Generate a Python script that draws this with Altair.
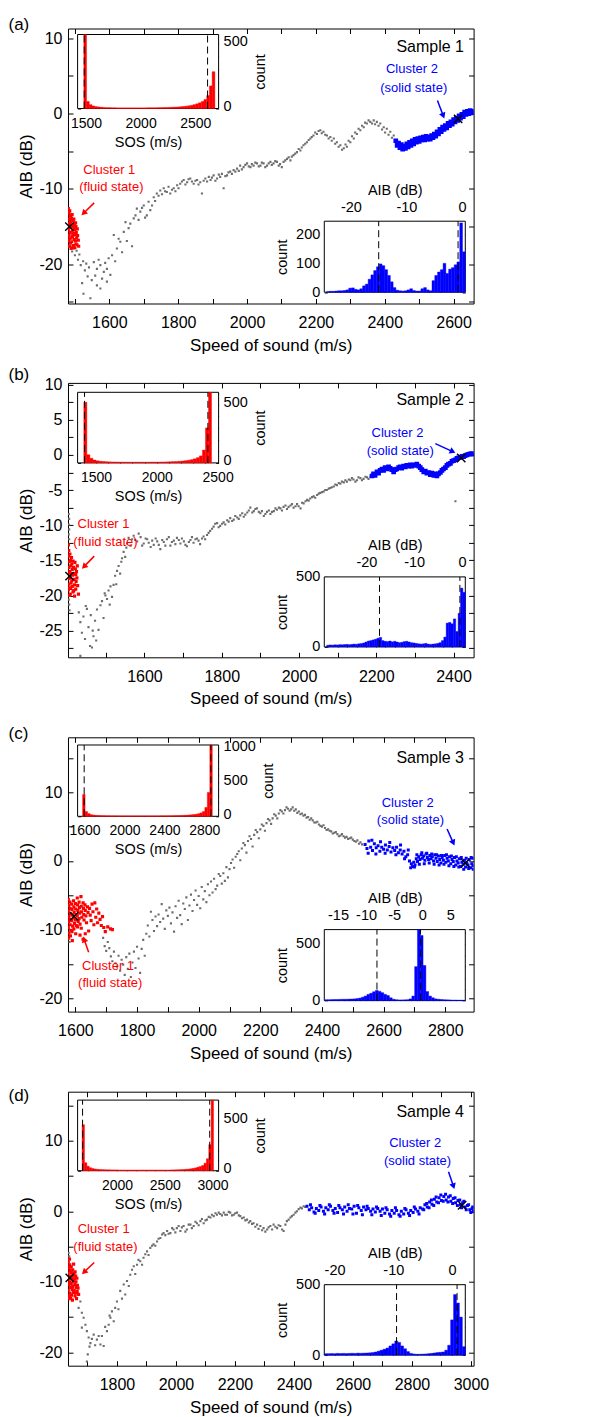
import math
import altair as alt
import pandas as pd

FONT = "Liberation Sans"
PLOT_W = 405.6
SPACING = 79.4
SOS_BIN = 25      # m/s per histogram bin
AIB_BIN = 0.5     # dB per histogram bin

# ---------------- Sample 1 ----------------
A_GRAY = [(1488,-17.6),(1492,-18.3),(1497,-17.9),(1500,-18.8),(1505,-18.2),(1509,-19.4),(1513,-18.7),(1517,-20.1),(1521,-22.5),(1524,-19.6),(1525,-23.9),(1529,-20.8),(1533,-19.9),(1537,-21.6),(1541,-20.4),(1545,-24.5),(1549,-22.1),(1555,-19.7),(1559,-21.5),(1564,-20.6),(1564,-22.8),(1569,-19.4),(1574,-20.1),(1574,-23.2),(1579,-21.9),(1584,-21.0),(1588,-19.8),(1593,-20.6),(1593,-22.3),(1598,-19.2),(1603,-21.4),(1608,-18.8),(1613,-16.1),(1617,-19.6),(1622,-17.9),(1627,-16.6),(1632,-17.0),(1637,-18.4),(1642,-15.7),(1647,-14.4),(1651,-16.9),(1656,-15.2),(1661,-14.6),(1666,-17.6),(1671,-13.9),(1676,-13.5),(1680,-12.6),(1685,-14.1),(1690,-13.0),(1695,-12.5),(1700,-12.2),(1704,-13.8),(1709,-13.5),(1714,-11.7),(1719,-12.8),(1724,-12.2),(1729,-11.1),(1733,-11.6),(1738,-10.6),(1743,-10.9),(1748,-10.2),(1753,-10.7),(1758,-9.9),(1762,-10.3),(1767,-10.4),(1772,-9.7),(1777,-10.6),(1782,-10.1),(1787,-9.9),(1792,-10.3),(1797,-9.5),(1801,-9.9),(1806,-9.3),(1811,-9.0),(1816,-8.8),(1821,-9.4),(1826,-9.1),(1830,-8.7),(1835,-8.6),(1840,-9.0),(1845,-9.3),(1850,-8.9),(1855,-8.8),(1859,-9.4),(1864,-9.1),(1869,-10.6),(1874,-8.9),(1879,-8.6),(1884,-9.0),(1889,-8.4),(1894,-8.8),(1898,-8.5),(1903,-8.2),(1908,-8.9),(1913,-8.6),(1918,-8.1),(1922,-8.4),(1927,-8.0),(1932,-9.9),(1937,-8.3),(1942,-8.2),(1946,-7.8),(1951,-7.7),(1956,-8.0),(1961,-7.5),(1966,-7.7),(1971,-7.3),(1976,-7.6),(1980,-6.9),(1985,-7.4),(1990,-7.1),(1995,-6.8),(2000,-6.6),(2005,-7.0),(2010,-7.1),(2014,-6.7),(2019,-6.9),(2024,-6.5),(2029,-6.6),(2034,-7.0),(2039,-6.9),(2043,-6.5),(2048,-6.6),(2053,-7.1),(2058,-6.9),(2063,-6.6),(2068,-6.4),(2072,-6.8),(2077,-6.6),(2082,-6.3),(2087,-6.4),(2092,-6.9),(2096,-6.7),(2101,-7.1),(2106,-6.4),(2111,-6.2),(2116,-6.0),(2121,-5.8),(2126,-6.2),(2130,-5.7),(2135,-5.5),(2140,-5.3),(2145,-5.1),(2150,-4.7),(2155,-4.9),(2159,-4.5),(2164,-4.2),(2169,-4.0),(2174,-3.8),(2179,-3.5),(2184,-3.3),(2188,-3.1),(2193,-2.9),(2198,-2.5),(2203,-2.7),(2208,-2.3),(2213,-2.2),(2217,-2.6),(2222,-2.4),(2227,-2.8),(2232,-2.9),(2237,-3.3),(2242,-3.1),(2246,-3.6),(2252,-3.3),(2256,-4.0),(2261,-3.8),(2266,-4.4),(2271,-4.2),(2276,-4.8),(2281,-4.6),(2286,-4.1),(2290,-4.4),(2295,-3.6),(2300,-3.8),(2305,-3.0),(2310,-3.3),(2314,-2.5),(2319,-2.7),(2324,-2.0),(2329,-2.2),(2334,-1.6),(2339,-1.8),(2343,-1.2),(2348,-1.3),(2353,-0.9),(2358,-1.1),(2363,-1.3),(2368,-0.9),(2372,-1.4),(2377,-1.1),(2382,-1.6),(2387,-1.3),(2392,-2.1),(2397,-1.8),(2401,-2.5),(2406,-2.0),(2411,-2.8),(2416,-2.4),(2421,-3.2),(2426,-2.9)]
A_RED = [(1481,-12.6),(1483,-13.2),(1482,-14.0),(1484,-14.6),(1481,-15.4),(1483,-16.2),(1482,-16.9),(1484,-17.6),(1486,-13.5),(1487,-14.3),(1488,-15.1),(1486,-15.8),(1489,-16.5),(1487,-17.2),(1490,-13.9),(1491,-14.8),(1492,-15.6),(1493,-16.3),(1491,-17.0),(1494,-17.8),(1495,-14.2),(1496,-15.0),(1497,-15.9),(1498,-16.7),(1496,-17.5),(1499,-14.6),(1500,-15.4),(1501,-16.1),(1502,-16.9),(1503,-15.0),(1504,-15.8),(1505,-16.5),(1506,-17.4),(1507,-15.3),(1508,-16.2),(1510,-16.8),(1511,-17.6),(1485,-12.9),(1488,-13.7),(1492,-13.4),(1497,-14.0),(1500,-17.8),(1503,-17.3),(1485,-16.6),(1489,-17.9),(1494,-16.0),(1498,-15.3),(1502,-14.5),(1482,-15.0),(1486,-14.8)]
A_BLUE = [(2432,-3.6),(2436,-4.2),(2440,-3.9),(2444,-4.5),(2448,-4.1),(2452,-4.7),(2456,-4.3),(2460,-4.6),(2464,-4.0),(2468,-4.4),(2472,-3.8),(2476,-4.2),(2480,-3.6),(2484,-4.0),(2488,-3.4),(2492,-3.8),(2496,-3.3),(2500,-3.7),(2504,-3.2),(2508,-3.5),(2512,-3.1),(2516,-3.5),(2520,-3.0),(2524,-3.4),(2528,-3.1),(2532,-3.4),(2536,-2.9),(2540,-3.2),(2544,-2.7),(2548,-3.0),(2552,-2.4),(2556,-2.7),(2560,-2.1),(2564,-2.4),(2568,-1.8),(2572,-2.1),(2576,-1.6),(2580,-1.9),(2584,-1.3),(2588,-1.6),(2592,-1.1),(2596,-1.4),(2600,-0.8),(2604,-1.1),(2608,-0.6),(2612,-0.9),(2616,-0.3),(2620,-0.6),(2624,-0.1),(2628,-0.4),(2632,0.2),(2636,-0.1),(2640,0.3),(2644,0.0),(2648,0.4),(2652,0.1),(2656,0.3)]
A_CENTERS = [(1484, -15.0), (2613, -0.7)]
A_SOS_BIN0 = 1480
A_SOS_COUNTS = [650,55,30,20,15,12,10,8,7,7,6,6,5,5,5,5,5,5,5,5,5,5,5,6,6,6,6,7,7,8,8,9,10,11,12,14,16,18,21,25,30,36,44,55,70,100,175,285]
A_AIB_BIN0 = -24.4
A_AIB_COUNTS = [2,3,3,4,5,5,6,8,14,15,10,8,12,22,28,45,60,75,88,98,92,78,58,36,16,7,5,4,5,8,12,6,4,4,12,16,8,5,40,58,70,78,100,65,80,85,95,105,240,140]
A_NOTES = [(1600,-7.54,"Cluster 1","red"),(1606,-9.76,"(fluid state)","red"),(2479,5.86,"Cluster 2","blue"),(2484,3.42,"(solid state)","blue")]
A_ARROWS = [(1556,-11.84,1519,-13.5,"red"),(2553,1.75,2573,-0.64,"blue")]

# ---------------- Sample 2 ----------------
B_GRAY = [(1404,-8.4),(1405,-9.1),(1404,-9.9),(1405,-10.6),(1404,-11.3),(1405,-12.0),(1404,-20.6),(1405,-21.3),(1406,-22.1),(1430,-22.4),(1434,-23.8),(1434,-28.6),(1438,-25.3),(1442,-23.0),(1446,-26.2),(1448,-21.5),(1451,-21.9),(1455,-24.5),(1459,-27.2),(1461,-22.8),(1464,-27.4),(1466,-25.0),(1468,-25.8),(1472,-23.6),(1475,-26.4),(1477,-22.0),(1481,-24.9),(1486,-21.4),(1490,-20.8),(1494,-23.2),(1497,-19.7),(1499,-20.0),(1503,-20.5),(1507,-19.3),(1510,-21.3),(1512,-18.7),(1516,-20.2),(1520,-18.5),(1524,-17.2),(1527,-18.4),(1529,-16.5),(1533,-15.8),(1537,-16.9),(1540,-15.2),(1542,-14.7),(1546,-13.8),(1550,-14.5),(1553,-13.2),(1555,-12.6),(1559,-11.8),(1564,-12.9),(1568,-12.0),(1572,-11.5),(1576,-12.1),(1581,-12.3),(1585,-11.2),(1590,-11.7),(1594,-12.9),(1598,-12.6),(1603,-11.9),(1607,-12.0),(1611,-12.5),(1616,-13.1),(1620,-12.2),(1624,-12.8),(1629,-11.9),(1633,-12.3),(1637,-12.8),(1641,-13.4),(1646,-12.1),(1650,-12.4),(1654,-12.9),(1658,-12.0),(1663,-11.7),(1667,-12.9),(1671,-12.4),(1676,-12.2),(1680,-12.7),(1684,-11.8),(1689,-12.1),(1693,-12.6),(1697,-11.9),(1702,-12.3),(1706,-12.8),(1710,-13.0),(1715,-12.4),(1719,-12.1),(1723,-11.7),(1727,-12.5),(1732,-12.0),(1736,-11.9),(1740,-12.2),(1744,-12.7),(1749,-11.9),(1753,-11.6),(1757,-12.0),(1762,-11.4),(1766,-11.1),(1770,-10.8),(1775,-10.5),(1779,-10.2),(1783,-9.8),(1788,-9.7),(1792,-10.3),(1796,-10.1),(1801,-9.8),(1805,-9.6),(1809,-9.9),(1814,-9.3),(1818,-9.5),(1822,-9.0),(1827,-9.4),(1831,-9.2),(1835,-8.7),(1840,-8.9),(1844,-9.1),(1848,-8.6),(1853,-8.3),(1857,-8.8),(1861,-8.5),(1866,-8.2),(1870,-7.9),(1874,-7.5),(1879,-8.2),(1883,-8.0),(1887,-7.7),(1891,-7.6),(1896,-8.1),(1900,-8.3),(1904,-8.0),(1909,-8.7),(1913,-8.4),(1917,-8.1),(1922,-7.9),(1926,-8.4),(1930,-8.1),(1935,-8.0),(1939,-7.6),(1943,-7.8),(1948,-7.5),(1952,-7.6),(1956,-7.9),(1960,-7.4),(1965,-7.2),(1969,-7.7),(1973,-7.4),(1978,-7.2),(1982,-7.0),(1986,-7.5),(1991,-7.3),(1995,-7.0),(1999,-7.3),(2004,-7.6),(2008,-6.8),(2012,-6.9),(2017,-6.6),(2021,-6.4),(2025,-6.5),(2029,-6.2),(2034,-6.0),(2038,-5.9),(2042,-6.1),(2047,-5.7),(2051,-5.5),(2055,-5.4),(2060,-5.3),(2064,-5.2),(2068,-5.0),(2072,-5.0),(2077,-4.8),(2081,-4.7),(2085,-4.6),(2090,-4.5),(2094,-4.2),(2098,-4.3),(2103,-4.0),(2107,-4.1),(2111,-3.8),(2116,-3.9),(2120,-3.6),(2124,-3.8),(2129,-3.5),(2133,-3.6),(2137,-3.3),(2141,-3.5),(2146,-3.8),(2150,-3.6),(2154,-3.2),(2159,-3.3),(2163,-3.6),(2167,-3.4),(2172,-3.1),(2176,-3.2),(2180,-3.4),(2185,-3.1),(2405,-6.6)]
B_RED = [(1403,-12.8),(1404,-13.6),(1403,-14.4),(1405,-15.2),(1404,-16.0),(1403,-16.8),(1405,-17.6),(1404,-18.4),(1403,-19.2),(1405,-20.0),(1407,-14.1),(1408,-15.0),(1409,-15.8),(1407,-16.6),(1408,-17.4),(1410,-18.2),(1409,-19.0),(1408,-19.8),(1412,-15.5),(1413,-16.3),(1414,-17.1),(1412,-17.9),(1413,-18.7),(1415,-19.5),(1416,-16.0),(1417,-16.9),(1418,-17.7),(1419,-18.5),(1417,-19.3),(1420,-15.3),(1421,-16.2),(1422,-17.0),(1423,-18.0),(1424,-16.6),(1425,-17.5),(1426,-15.8),(1427,-18.6),(1429,-19.8),(1411,-14.6),(1406,-18.9),(1415,-15.1),(1419,-20.1),(1422,-19.1),(1410,-16.9)]
B_BLUE = [(2189,-3.0),(2193,-2.7),(2197,-2.9),(2202,-2.4),(2206,-2.6),(2210,-2.2),(2215,-2.0),(2219,-2.2),(2223,-1.8),(2227,-2.0),(2232,-1.7),(2236,-1.9),(2240,-2.1),(2245,-2.4),(2249,-2.1),(2253,-2.0),(2258,-1.8),(2262,-1.7),(2266,-1.9),(2271,-1.6),(2275,-1.7),(2279,-1.5),(2284,-1.6),(2288,-1.4),(2292,-1.6),(2297,-1.4),(2301,-1.5),(2305,-1.3),(2310,-1.6),(2314,-1.8),(2318,-2.1),(2323,-2.4),(2327,-2.3),(2331,-2.6),(2336,-2.5),(2340,-2.8),(2344,-2.6),(2349,-2.9),(2353,-2.7),(2357,-3.0),(2361,-2.7),(2366,-2.5),(2370,-2.2),(2374,-2.0),(2379,-1.8),(2383,-1.5),(2387,-1.3),(2392,-1.2),(2396,-0.9),(2400,-0.8),(2405,-0.7),(2409,-0.5),(2413,-0.4),(2418,-0.35),(2422,-0.2),(2426,-0.25),(2430,-0.1),(2435,0.0),(2439,0.1),(2443,0.15),(2448,0.2),(2451,0.1)]
B_CENTERS = [(1406, -17.25), (2420, -0.43)]
B_SOS_BIN0 = 1400
B_SOS_COUNTS = [520,70,40,25,18,14,12,10,9,8,8,7,7,6,6,6,6,6,6,6,6,6,7,7,7,8,8,9,10,11,12,14,16,19,23,28,35,45,60,110,300,650]
B_AIB_BIN0 = -28.3
B_AIB_COUNTS = [12,14,13,15,14,16,15,17,18,16,18,20,19,22,24,28,35,42,45,50,55,62,68,45,40,38,42,36,40,35,30,33,38,40,35,30,28,25,22,20,22,25,20,18,20,22,25,30,45,70,170,175,165,200,110,240,420,390]
B_NOTES = [(1494,-9.9,"Cluster 1","red"),(1499,-12.4,"(fluid state)","red"),(2255,3.14,"Cluster 2","blue"),(2262,0.62,"(solid state)","blue")]
B_ARROWS = [(1470,-14.4,1438,-16.2,"red"),(2353,1.61,2405,0.29,"blue")]

# ---------------- Sample 3 ----------------
C_GRAY = [(1578,-11.3),(1581,-11.8),(1585,-11.0),(1690,-11.2),(1695,-12.4),(1700,-13.1),(1705,-11.8),(1710,-12.7),(1715,-13.9),(1720,-14.6),(1725,-13.2),(1730,-14.9),(1735,-15.4),(1740,-13.8),(1745,-16.0),(1750,-14.4),(1755,-15.1),(1760,-16.6),(1765,-14.0),(1770,-15.7),(1775,-13.5),(1780,-16.9),(1785,-14.8),(1790,-13.2),(1795,-15.6),(1800,-12.5),(1805,-14.2),(1810,-16.3),(1815,-12.8),(1820,-11.5),(1825,-13.8),(1830,-10.6),(1835,-9.4),(1840,-11.0),(1845,-7.4),(1850,-8.6),(1855,-10.2),(1860,-8.1),(1865,-9.5),(1870,-7.8),(1875,-8.9),(1880,-6.3),(1885,-8.4),(1890,-9.9),(1895,-7.2),(1900,-8.0),(1905,-6.8),(1910,-9.1),(1915,-7.5),(1920,-10.3),(1925,-6.6),(1930,-8.3),(1935,-5.8),(1940,-7.9),(1945,-9.2),(1950,-6.2),(1955,-7.0),(1960,-5.3),(1965,-8.6),(1970,-6.5),(1975,-4.9),(1980,-7.3),(1985,-5.7),(1990,-4.3),(1995,-6.4),(2000,-5.1),(2005,-6.9),(2010,-3.8),(2015,-5.6),(2020,-4.4),(2025,-6.0),(2030,-3.4),(2035,-5.0),(2040,-3.0),(2045,-4.6),(2050,-2.6),(2055,-4.1),(2060,-3.6),(2065,-1.9),(2070,-2.2),(2075,-3.3),(2080,-1.8),(2085,-2.9),(2090,-0.9),(2095,-2.4),(2100,-1.2),(2105,-0.3),(2110,0.2),(2115,-1.0),(2120,0.6),(2125,1.0),(2130,1.4),(2135,0.1),(2140,1.8),(2145,2.6),(2150,2.3),(2155,1.2),(2160,2.9),(2165,3.6),(2170,3.2),(2175,2.1),(2180,3.8),(2185,4.5),(2190,4.2),(2195,3.3),(2200,4.6),(2205,5.3),(2210,5.1),(2215,4.4),(2220,5.5),(2225,6.1),(2230,5.9),(2235,5.4),(2240,6.2),(2245,6.8),(2250,6.6),(2255,6.2),(2260,6.9),(2265,7.4),(2270,7.2),(2275,6.9),(2280,7.4),(2285,7.8),(2290,7.6),(2295,7.3),(2300,7.5),(2305,7.8),(2310,7.3),(2315,7.5),(2320,7.0),(2325,7.2),(2330,6.8),(2335,6.9),(2340,6.6),(2345,6.7),(2350,6.3),(2355,6.4),(2360,6.0),(2365,6.2),(2370,5.9),(2375,5.6),(2380,5.6),(2385,5.7),(2390,5.3),(2395,5.1),(2400,5.0),(2405,5.2),(2410,4.8),(2415,4.5),(2420,4.6),(2425,4.4),(2430,4.3),(2435,4.0),(2440,4.1),(2445,4.2),(2450,3.9),(2455,3.6),(2460,3.7),(2465,3.9),(2470,3.6),(2475,3.4),(2480,3.5),(2485,3.2),(2490,3.3),(2495,3.4),(2500,3.1),(2505,2.9),(2510,2.8),(2515,3.0),(2520,2.5),(2525,2.7),(2530,2.4)]
C_RED = [(1577,-5.6),(1578,-6.5),(1577,-7.3),(1579,-8.1),(1578,-8.9),(1577,-9.7),(1579,-10.5),(1578,-11.2),(1582,-6.0),(1583,-6.9),(1584,-7.7),(1582,-8.5),(1583,-9.3),(1585,-10.1),(1584,-10.9),(1588,-6.3),(1589,-7.1),(1590,-7.9),(1588,-8.7),(1591,-9.5),(1589,-10.3),(1594,-5.8),(1595,-6.7),(1596,-7.5),(1594,-8.3),(1597,-9.1),(1595,-9.9),(1600,-6.2),(1601,-7.0),(1602,-7.8),(1600,-8.6),(1603,-9.4),(1601,-10.6),(1606,-5.4),(1607,-6.4),(1608,-7.2),(1606,-8.0),(1609,-8.8),(1607,-9.6),(1612,-6.0),(1613,-6.8),(1614,-7.6),(1612,-8.4),(1615,-9.2),(1618,-5.2),(1619,-6.6),(1620,-7.4),(1621,-8.2),(1619,-9.8),(1625,-6.1),(1626,-6.9),(1627,-7.8),(1628,-8.6),(1631,-6.4),(1632,-7.2),(1634,-8.0),(1636,-9.0),(1639,-6.7),(1641,-7.5),(1643,-10.2),(1646,-6.9),(1648,-7.9),(1651,-8.7),(1654,-6.3),(1657,-7.4),(1660,-9.3),(1663,-6.1),(1666,-8.2),(1669,-7.0),(1672,-9.0),(1676,-7.6),(1680,-8.5),(1684,-9.4),(1688,-8.1),(1692,-9.7),(1697,-10.3),(1705,-9.6),(1714,-9.9),(1720,-10.0),(1625,-11.4),(1632,-10.6),(1615,-10.8),(1590,-11.6)]
C_BLUE = [(2540,2.4),(2546,1.8),(2552,2.9),(2558,2.0),(2564,1.5),(2570,2.5),(2576,1.9),(2582,2.2),(2588,1.4),(2594,2.0),(2600,1.7),(2606,2.3),(2612,1.6),(2618,2.1),(2624,1.3),(2630,1.9),(2636,1.5),(2642,2.0),(2648,1.2),(2654,1.6),(2660,1.0),(2666,1.4),(2672,0.6),(2678,0.9),(2684,0.0),(2690,-0.4),(2694,-0.8),(2698,-0.2),(2702,-0.6),(2706,0.3),(2710,-0.1),(2714,0.6),(2718,0.2),(2722,0.9),(2726,0.4),(2730,0.7),(2734,0.1),(2738,1.0),(2742,0.5),(2746,0.2),(2750,0.8),(2754,0.3),(2758,0.6),(2762,0.0),(2766,0.9),(2770,0.4),(2774,-0.1),(2778,0.7),(2782,0.2),(2786,-0.3),(2790,0.5),(2794,0.1),(2798,0.8),(2802,-0.2),(2806,0.4),(2810,0.0),(2814,0.6),(2818,-0.4),(2822,0.2),(2826,-0.1),(2830,0.5),(2834,-0.6),(2838,0.0),(2842,-0.3),(2846,0.3),(2850,-0.8),(2854,-0.2),(2858,-0.5),(2862,0.1),(2866,-0.9),(2870,-0.3),(2874,-0.6),(2878,0.2),(2882,-1.0),(2886,-0.4),(2890,-0.7),
          (2700,-0.9),(2708,0.9),(2716,-0.5),(2724,1.2),(2732,-0.4),(2740,1.1),(2748,-0.3),(2756,1.0),(2764,-0.5),(2772,0.9),(2780,-0.6),(2788,0.8),(2796,-0.5),(2804,0.9),(2812,-0.7),(2820,0.7),(2828,-0.8),(2836,0.6),(2844,-0.9),(2852,0.5),(2860,-1.2),(2868,0.4),(2876,-1.1),(2884,0.5),(2891,-1.2),(2889,0.4),
          (2550,1.1),(2562,3.0),(2575,1.0),(2590,2.8),(2605,1.1),(2620,2.7),(2640,0.9),(2655,2.3),(2668,0.3),(2680,1.6),(2688,-1.0)]
C_CENTERS = [(1596, -8.06), (2865, -0.3)]
C_SOS_BIN0 = 1580
C_SOS_COUNTS = [320,70,40,25,18,14,12,10,9,8,8,7,7,7,6,6,6,6,6,6,6,6,6,6,6,6,6,6,6,6,6,7,7,7,8,8,9,10,11,12,14,16,19,22,26,30,38,50,70,130,350,1100]
C_AIB_BIN0 = -17.35
C_AIB_COUNTS = [8,8,9,10,10,11,12,12,13,14,15,18,22,30,40,55,65,78,90,82,70,55,45,25,12,8,6,6,7,8,15,40,300,630,575,310,80,40,25,15,12,10,8,7,6,5,5,4,4,3]
C_NOTES = [(1706,-15.34,"Cluster 1","red"),(1713,-17.8,"(fluid state)","red"),(2678,8.39,"Cluster 2","blue"),(2687,5.96,"(solid state)","blue")]
C_ARROWS = [(1643,-13.3,1625,-11.0,"red"),(2806,4.65,2830,2.23,"blue")]

# ---------------- Sample 4 ----------------
D_GRAY = [(1636,-5.9),(1638,-6.4),(1664,-12.3),(1670,-13.7),(1676,-12.8),(1681,-14.4),(1681,-16.5),(1687,-15.1),(1693,-16.1),(1698,-17.0),(1698,-21.3),(1701,-20.3),(1704,-17.9),(1707,-19.2),(1710,-18.7),(1715,-18.1),(1721,-17.5),(1726,-19.0),(1732,-18.2),(1738,-17.7),(1744,-18.9),(1749,-17.7),(1755,-19.1),(1760,-16.4),(1766,-17.0),(1772,-16.1),(1775,-14.8),(1778,-15.1),(1783,-14.2),(1789,-15.6),(1794,-13.7),(1800,-12.8),(1805,-13.9),(1811,-11.3),(1817,-12.4),(1823,-10.4),(1828,-11.8),(1834,-9.9),(1840,-10.6),(1845,-9.0),(1851,-8.3),(1857,-7.8),(1862,-8.9),(1868,-7.6),(1873,-6.9),(1879,-7.1),(1885,-7.6),(1890,-6.6),(1896,-6.1),(1902,-5.7),(1907,-6.2),(1913,-5.2),(1919,-4.9),(1924,-4.7),(1930,-4.9),(1936,-4.3),(1941,-3.9),(1947,-3.8),(1953,-3.3),(1958,-3.1),(1964,-3.4),(1970,-2.8),(1975,-3.2),(1981,-3.1),(1987,-2.4),(1992,-2.6),(1998,-3.0),(2003,-2.4),(2009,-2.1),(2015,-2.8),(2020,-2.3),(2026,-2.1),(2032,-2.9),(2037,-2.6),(2043,-1.9),(2049,-1.9),(2054,-2.4),(2060,-2.1),(2066,-1.5),(2071,-1.7),(2077,-2.0),(2083,-1.4),(2088,-1.1),(2094,-1.7),(2100,-1.3),(2105,-1.2),(2111,-0.8),(2117,-0.9),(2122,-0.5),(2128,-0.7),(2134,-0.3),(2139,-0.5),(2145,-0.2),(2150,-0.4),(2156,-0.6),(2162,-0.2),(2167,-0.5),(2173,-0.5),(2179,-0.1),(2184,-0.2),(2190,-0.6),(2196,-0.5),(2201,-0.3),(2207,-0.2),(2213,-0.6),(2218,-0.7),(2224,-1.0),(2230,-0.9),(2235,-1.3),(2241,-1.2),(2247,-1.6),(2252,-1.4),(2258,-1.8),(2263,-1.7),(2269,-2.2),(2275,-1.9),(2280,-2.5),(2286,-2.1),(2292,-2.7),(2297,-2.4),(2303,-2.9),(2309,-2.6),(2314,-2.3),(2320,-2.1),(2326,-2.6),(2331,-1.9),(2337,-2.2),(2343,-2.4),(2348,-2.0),(2354,-2.1),(2360,-2.6),(2365,-2.8),(2371,-1.9),(2376,-1.4),(2382,-1.2),(2388,-0.9),(2393,-0.7),(2399,-0.5),(2405,-0.2),(2410,0.0),(2416,0.3),(2422,0.5),(2427,0.4),(2433,0.7),(2438,0.6)]
D_RED = [(1635,-7.2),(1636,-8.0),(1635,-8.8),(1637,-9.6),(1636,-10.4),(1635,-11.2),(1637,-12.0),(1640,-7.6),(1641,-8.4),(1642,-9.2),(1640,-10.0),(1643,-10.8),(1641,-11.6),(1645,-7.9),(1646,-8.7),(1647,-9.5),(1645,-10.3),(1648,-11.1),(1646,-11.9),(1650,-8.3),(1651,-9.1),(1652,-9.9),(1650,-10.7),(1653,-11.5),(1655,-8.8),(1656,-9.6),(1657,-10.4),(1655,-11.2),(1658,-12.0),(1660,-9.2),(1661,-10.0),(1662,-10.8),(1660,-11.6),(1664,-9.5),(1666,-10.5),(1665,-11.4),(1668,-10.9),(1670,-11.8),(1638,-12.4),(1643,-12.3),(1649,-12.6),(1653,-7.5),(1639,-6.8),(1658,-8.6),(1663,-12.4)]
D_BLUE = [(2444,0.7),(2452,0.2),(2460,0.5),(2468,-0.1),(2476,0.4),(2484,0.1),(2492,0.6),(2500,0.0),(2508,0.5),(2516,0.2),(2524,0.7),(2532,0.1),(2540,0.4),(2548,-0.2),(2556,0.5),(2564,0.2),(2572,0.6),(2580,0.0),(2588,0.4),(2596,0.3),(2604,0.7),(2612,-0.3),(2620,0.5),(2628,0.1),(2636,0.6),(2644,0.2),(2652,0.4),(2660,0.0),(2668,0.3),(2676,-0.1),(2684,0.4),(2692,0.0),(2700,0.3),(2708,-0.3),(2716,0.2),(2724,-0.4),(2732,0.1),(2740,-0.3),(2748,0.1),(2756,-0.5),(2764,0.0),(2772,-0.4),(2780,0.2),(2788,-0.3),(2796,0.1),(2804,-0.2),(2812,0.3),(2820,0.0),(2828,0.5),(2836,0.3),(2844,0.9),(2852,0.6),(2860,1.3),(2868,1.0),(2876,1.7),(2884,1.3),(2892,1.9),(2900,1.5),(2908,2.1),(2916,1.6),(2924,2.0),(2932,1.4),(2940,1.8),(2948,1.2),(2956,1.5),(2964,0.9),(2972,1.2),(2980,0.6),(2988,0.8),(2996,0.2),(3004,0.4),(3008,0.0),
          (2850,1.1),(2858,0.5),(2866,1.6),(2874,0.8),(2882,2.0),(2890,1.2),(2898,2.3),(2906,1.4),(2914,2.4),(2922,1.3),(2930,2.2),(2938,1.1),(2946,1.9),(2954,0.8),(2962,1.6),(2968,0.5),(2976,1.4),(2984,0.2),(2992,0.9),(3000,-0.2),(3006,0.6),
          (2456,0.9),(2472,-0.3),(2488,0.8),(2504,-0.4),(2520,0.9),(2536,-0.3),(2552,0.8),(2568,-0.4),(2584,0.9),(2600,-0.4),(2616,0.8),(2632,-0.5),(2648,0.7),(2664,-0.5),(2680,0.6),(2696,-0.6),(2712,0.5),(2728,-0.7),(2744,0.5),(2760,-0.7),(2776,0.4),(2792,-0.6),(2808,0.6),(2824,-0.4),(2840,0.2)]
D_CENTERS = [(1640, -9.45), (2970, 0.85)]
D_SOS_BIN0 = 1635
D_SOS_COUNTS = [460,80,45,30,22,17,14,12,11,10,9,9,8,8,8,7,7,7,7,7,7,7,7,7,7,7,7,7,7,7,7,7,7,7,7,7,7,8,8,9,10,11,12,14,16,19,23,28,35,42,52,75,120,260,720]
D_AIB_BIN0 = -21.75
D_AIB_COUNTS = [10,10,11,10,12,11,12,11,12,13,12,14,13,14,15,16,18,22,28,35,42,50,65,80,100,90,65,45,25,12,8,6,6,7,8,10,12,15,18,20,22,35,70,250,430,370,270,60]
D_NOTES = [(1755,-2.54,"Cluster 1","red"),(1761,-5.14,"(fluid state)","red"),(2811,9.61,"Cluster 2","blue"),(2819,7.06,"(solid state)","blue")]
D_ARROWS = [(1723,-7.27,1681,-8.93,"red"),(2924,5.6,2944,3.13,"blue")]

PANELS = [
    dict(tag="(a)", tag_y=-3.3, name="Sample 1", name_y=18.4, height=275, blue_size=22,
         xdom=(1480, 2658), ydom=(-25.2, 11.3), ystep=5, ylab=10,
         gray=A_GRAY, red=A_RED, blue=A_BLUE, centers=A_CENTERS, notes=A_NOTES, arrows=A_ARROWS,
         sos_bin0=A_SOS_BIN0, sos_counts=A_SOS_COUNTS, sos_xdom=(1423, 2714), sos_ydom=(0, 573), sos_xlab=500,
         sos_box=(9.6, 150.6, 6.0, 80.0),
         aib_bin0=A_AIB_BIN0, aib_counts=A_AIB_COUNTS, aib_xdom=(-24.8, 0.6), aib_ydom=(0, 246),
         aib_xstep=2, aib_xlab=10, aib_ystep=50, aib_ylab=100, aib_box=(256.3, 397.3, 192.7, 263.7)),
    dict(tag="(b)", tag_y=-8.3, name="Sample 2", name_y=16.7, height=274.4, blue_size=22,
         xdom=(1402, 2452), ydom=(-28.8, 10.25), ystep=2.5, ylab=5,
         gray=B_GRAY, red=B_RED, blue=B_BLUE, centers=B_CENTERS, notes=B_NOTES, arrows=B_ARROWS,
         sos_bin0=B_SOS_BIN0, sos_counts=B_SOS_COUNTS, sos_xdom=(1349, 2508), sos_ydom=(0, 605), sos_xlab=500,
         sos_box=(9.6, 150.6, 9.4, 80.0),
         aib_bin0=B_AIB_BIN0, aib_counts=B_AIB_COUNTS, aib_xdom=(-28.8, 0.7), aib_ydom=(0, 500),
         aib_xstep=2, aib_xlab=10, aib_ystep=100, aib_ylab=500, aib_box=(256.3, 397.3, 194.0, 264.0)),
    dict(tag="(c)", tag_y=-3.0, name="Sample 3", name_y=21.0, height=274.3, blue_size=9,
         xdom=(1576, 2892), ydom=(-21.94, 18.0), ystep=5, ylab=10,
         gray=C_GRAY, red=C_RED, blue=C_BLUE, centers=C_CENTERS, notes=C_NOTES, arrows=C_ARROWS,
         sos_bin0=C_SOS_BIN0, sos_counts=C_SOS_COUNTS, sos_xdom=(1530, 2943), sos_ydom=(0, 1044), sos_xlab=400,
         sos_box=(9.6, 150.6, 7.7, 79.0),
         aib_bin0=C_AIB_BIN0, aib_counts=C_AIB_COUNTS, aib_xdom=(-17.44, 7.67), aib_ydom=(0, 627),
         aib_xstep=1, aib_xlab=5, aib_ystep=100, aib_ylab=500, aib_box=(256.3, 397.3, 192.3, 263.3)),
    dict(tag="(d)", tag_y=4.7, name="Sample 4", name_y=20.7, height=274, blue_size=9,
         xdom=(1634, 3009), ydom=(-21.9, 16.94), ystep=5, ylab=10,
         gray=D_GRAY, red=D_RED, blue=D_BLUE, centers=D_CENTERS, notes=D_NOTES, arrows=D_ARROWS,
         sos_bin0=D_SOS_BIN0, sos_counts=D_SOS_COUNTS, sos_xdom=(1588, 3063), sos_ydom=(0, 706), sos_xlab=500,
         sos_box=(9.6, 150.6, 8.4, 79.0),
         aib_bin0=D_AIB_BIN0, aib_counts=D_AIB_COUNTS, aib_xdom=(-21.75, 2.25), aib_ydom=(0, 500),
         aib_xstep=2, aib_xlab=10, aib_ystep=100, aib_ylab=500, aib_box=(256.3, 397.3, 193.0, 263.4)),
]


def ticks(lo, hi, step):
    k0 = math.ceil(lo / step - 1e-9)
    k1 = math.floor(hi / step + 1e-9)
    return [round(k * step, 6) for k in range(k0, k1 + 1)]


def every(step):
    # show a label only on every `step`, with a plain hyphen for negatives
    return f"abs(datum.value % {step}) < 1e-6 ? replace(datum.label, '\u2212', '-') : ''"


def pts(rows):
    return pd.DataFrame(rows, columns=["sos", "aib"])


def main_layer(p):
    H = p["height"]
    xs = alt.Scale(domain=list(p["xdom"]), nice=False, zero=False)
    ys = alt.Scale(domain=list(p["ydom"]), nice=False, zero=False)
    xt = ticks(*p["xdom"], 100)
    yt = ticks(*p["ydom"], p["ystep"])

    def X(f, axis=None):
        return alt.X(f, type="quantitative", scale=xs, axis=axis)

    def Y(f, axis=None):
        return alt.Y(f, type="quantitative", scale=ys, axis=axis)

    gray = alt.Chart(pts(p["gray"])).mark_square(size=4.5, color="#6d6d6d", opacity=1, clip=True).encode(
        x=X("sos", alt.Axis(orient="bottom", values=xt, format="d", labelExpr=every(200), tickSize=5,
                            offset=-5, labelPadding=11, labelFontSize=16, title="Speed of sound (m/s)",
                            titleFontSize=17, titlePadding=6.5)),
        y=Y("aib", alt.Axis(orient="left", values=yt, format="d", labelExpr=every(p["ylab"]), tickSize=5,
                            offset=-5, labelPadding=6, labelFontSize=16, title="AIB (dB)",
                            titleFontSize=17, titlePadding=3)))
    blue = alt.Chart(pts(p["blue"])).mark_square(size=p["blue_size"], color="#0000ff", opacity=1, clip=True).encode(
        x=X("sos"), y=Y("aib"))
    red = alt.Chart(pts(p["red"])).mark_square(size=10, color="#ff0000", opacity=1, clip=True).encode(
        x=X("sos", alt.Axis(orient="top", values=xt, labels=False, tickSize=5, offset=-5, title=None)),
        y=Y("aib", alt.Axis(orient="right", values=yt, labels=False, tickSize=5, offset=-5, title=None)))
    cross = alt.Chart(pts(p["centers"])).mark_point(
        shape="M-1,-1L1,1M-1,1L1,-1", size=70, color="black", strokeWidth=1.4, filled=False, opacity=1
    ).encode(x=X("sos"), y=Y("aib"))

    notes = alt.Chart(pd.DataFrame(p["notes"], columns=["sos", "aib", "txt", "col"])).mark_text(
        font=FONT, fontSize=13, align="center", baseline="middle"
    ).encode(x=X("sos"), y=Y("aib"), text="txt:N", color=alt.Color("col:N", scale=None))

    # arrows: shaft plus a rotated triangular head
    sx = PLOT_W / (p["xdom"][1] - p["xdom"][0])
    sy = H / (p["ydom"][1] - p["ydom"][0])
    rows = []
    for xa, ya, xb, yb, col in p["arrows"]:
        dx, dy = (xb - xa) * sx, -(yb - ya) * sy
        L = math.hypot(dx, dy)
        ux, uy = dx / L, dy / L
        ang = math.degrees(math.atan2(ux, -uy)) % 360
        hx, hy = xb - 3 * ux / sx, yb + 3 * uy / sy
        rows.append(dict(xa=xa, ya=ya, hx=hx, hy=hy, ang=ang, col=col))
    adf = pd.DataFrame(rows)
    shafts = alt.Chart(adf).mark_rule(strokeWidth=1.5).encode(
        x=X("xa"), y=Y("ya"), x2="hx:Q", y2="hy:Q", color=alt.Color("col:N", scale=None))
    heads = alt.Chart(adf).mark_point(shape="triangle-up", filled=True, size=45, opacity=1).encode(
        x=X("hx"), y=Y("hy"), angle=alt.Angle("ang:Q", scale=None), color=alt.Color("col:N", scale=None))

    tag = alt.Chart(pd.DataFrame({"t": [p["tag"]]})).mark_text(
        font=FONT, fontSize=17, align="left", baseline="middle", color="black"
    ).encode(text="t:N", x=alt.value(-59.5), y=alt.value(p["tag_y"]))
    name = alt.Chart(pd.DataFrame({"t": [p["name"]]})).mark_text(
        font=FONT, fontSize=16, align="right", baseline="middle", color="black"
    ).encode(text="t:N", x=alt.value(PLOT_W - 9.6), y=alt.value(p["name_y"]))

    return alt.layer(gray, blue, red, cross, notes, shafts, heads, tag, name).resolve_axis(
        x="independent", y="independent")


def hist_layer(p, kind):
    H = p["height"]
    x0, x1, y0, y1 = p[f"{kind}_box"]
    xdom, ydom = p[f"{kind}_xdom"], p[f"{kind}_ydom"]
    sx = alt.Scale(domain=list(xdom), range=[x0, x1], nice=False, zero=False)
    sy = alt.Scale(domain=list(ydom), range=[y1, y0], nice=False, zero=False, clamp=True)
    counts = p[f"{kind}_counts"]
    width = SOS_BIN if kind == "sos" else AIB_BIN
    df = pd.DataFrame({"lo": [round(p[f"{kind}_bin0"] + i * width, 4) for i in range(len(counts))],
                       "count": counts})
    df["hi"] = df["lo"] + width
    df["base"] = 0
    color = "#ff0000" if kind == "sos" else "#0000ff"
    if kind == "sos":
        xt, xlab, xtitle = ticks(*xdom, 100), p["sos_xlab"], "SOS (m/s)"
        yt, ylab = ticks(*ydom, 100), 500
        x_lab_orient, x_mir_orient = "bottom", "top"
        y_lab_orient, y_mir_orient = "right", "left"
        centers = [c[0] for c in p["centers"]]
        xpad, xtpad, xfs, yoff = 7.5, 5, 14, -2
    else:
        xt, xlab, xtitle = ticks(*xdom, p["aib_xstep"]), p["aib_xlab"], "AIB (dB)"
        yt, ylab = ticks(*ydom, p["aib_ystep"]), p["aib_ylab"]
        x_lab_orient, x_mir_orient = "top", "bottom"
        y_lab_orient, y_mir_orient = "left", "right"
        centers = [c[1] for c in p["centers"]]
        xpad, xtpad, xfs, yoff = 7, 2, 14.5, 0

    off = {"top": -(y0 + 3), "bottom": -(H - y1 + 3), "left": -(x0 + 3), "right": -(PLOT_W - x1 + 3)}
    ytitle = dict(title="count", titleFontSize=14.5, titlePadding=6)
    if y_lab_orient == "right":
        ytitle.update(titleAngle=270, titleBaseline="top")

    frame = alt.Chart(pd.DataFrame({"k": [0]})).mark_rect(
        fill="white", stroke="black", strokeWidth=1
    ).encode(x=alt.value(x0), x2=alt.value(x1), y=alt.value(y0), y2=alt.value(y1))
    bars = alt.Chart(df).mark_rect(color=color, stroke=color, strokeWidth=0.4, opacity=1).encode(
        x=alt.X("lo:Q", scale=sx, axis=alt.Axis(
            orient=x_lab_orient, values=xt, format="d", labelExpr=every(xlab), tickSize=3,
            offset=off[x_lab_orient], labelPadding=xpad, labelFontSize=xfs, title=xtitle,
            titleFontSize=14.5, titlePadding=xtpad)),
        x2="hi:Q",
        y=alt.Y("count:Q", scale=sy, axis=alt.Axis(
            orient=y_lab_orient, values=yt, format="d", labelExpr=every(ylab), tickSize=3,
            offset=off[y_lab_orient], labelPadding=4.5, labelFontSize=14.5, labelOffset=yoff, **ytitle)),
        y2="base:Q")
    marks = pd.DataFrame({"c": centers, "lo": 0, "hi": ydom[1]})
    dash = alt.Chart(marks).mark_rule(color="black", strokeWidth=1, strokeDash=[7, 4]).encode(
        x=alt.X("c:Q", scale=sx, axis=alt.Axis(orient=x_mir_orient, values=xt, labels=False, tickSize=3,
                                               offset=off[x_mir_orient], title=None)),
        y=alt.Y("lo:Q", scale=sy, axis=alt.Axis(orient=y_mir_orient, values=yt, labels=False, tickSize=3,
                                                offset=off[y_mir_orient], title=None)),
        y2="hi:Q")
    return alt.layer(frame, bars, dash).resolve_axis(x="independent", y="independent")


panels = []
for p in PANELS:
    panel = alt.layer(main_layer(p), hist_layer(p, "sos"), hist_layer(p, "aib")).resolve_scale(
        x="independent", y="independent").properties(width=PLOT_W, height=p["height"])
    panels.append(panel)

chart = alt.vconcat(*panels, spacing=SPACING, bounds="flush").properties(
    padding={"left": 8, "top": 15.5, "right": 0, "bottom": 0}
).configure(font=FONT).configure_view(stroke="black", strokeWidth=1).configure_axis(
    grid=False, domain=False, tickColor="black", tickWidth=1, labelColor="black", titleColor="black",
    titleFontWeight="normal", labelFlush=False, labelOverlap=False, zindex=1)

chart.save("out.html", embed_options={"renderer": "svg", "actions": False})
